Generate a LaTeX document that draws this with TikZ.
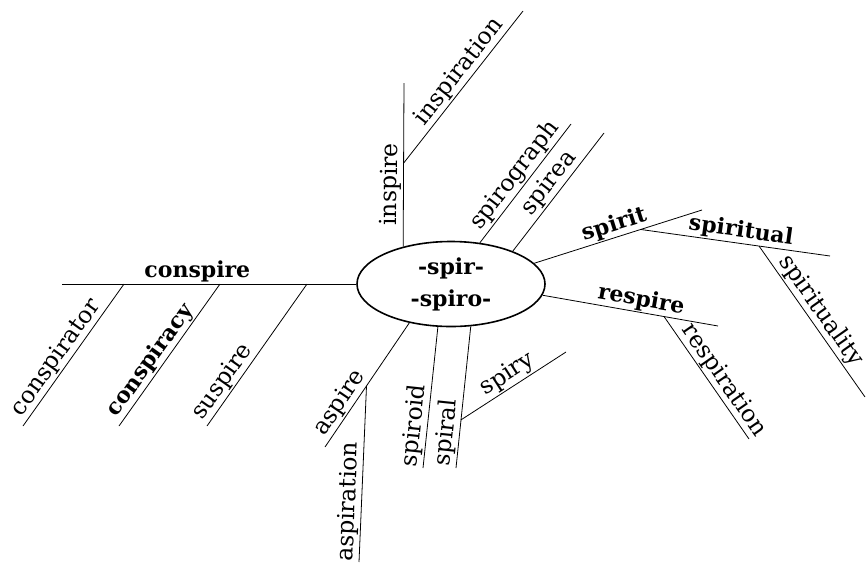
\documentclass[tikz,border=0pt]{standalone}
\usepackage{fontspec}
\setmainfont{DejaVu Serif}
\usetikzlibrary{shapes.geometric}

\tikzset{word/.style={sloped, above, inner sep=1.2pt, font=\fontsize{23.5}{28}\selectfont},
  bword/.style={word, font=\fontsize{22}{26}\selectfont\bfseries},
  stem/.style={draw, ellipse, line width=1.6pt, minimum width=188, minimum height=85, inner sep=0pt, align=center, font=\fontsize{22}{32}\selectfont\bfseries}}

\begin{document}
\begin{tikzpicture}[x=1pt, y=-1pt, line width=.8pt]

\useasboundingbox (0,0) rectangle (867,563);

\node[stem] (root) at (451,284) {-spir-\\-spiro-};

% ends and forks
\coordinate (conL) at (62,284);
\coordinate (c1) at (124,284); \coordinate (c1e) at (23,426);
\coordinate (c2) at (220,284); \coordinate (c2e) at (119,426);
\coordinate (c3) at (307,284); \coordinate (c3e) at (207,426);
\coordinate (inT) at (404,83);
\coordinate (in1) at (403.7,163); \coordinate (in1e) at (523,11);
\coordinate (gphE) at (571,124);
\coordinate (reaE) at (604,133);
\coordinate (sptE) at (702,210);
\coordinate (sp1) at (641,229.5); \coordinate (sp1e) at (830,256);
\coordinate (sp2) at (759,246); \coordinate (sp2e) at (865,397);
\coordinate (resE) at (718,326);
\coordinate (re1) at (664,316.5); \coordinate (re1e) at (749,439);
\coordinate (aspE) at (325,447);
\coordinate (as1) at (366.5,386); \coordinate (as1e) at (359,562);
\coordinate (oidE) at (423,468);
\coordinate (ralE) at (456,468);
\coordinate (ra1) at (460.8,420); \coordinate (ra1e) at (566,352);

% left
\draw (conL) -- (root.180) node[bword, pos=.46] (conspire) {conspire};
\draw (c1e) -- (c1) node[word, pos=.43] (conspirator) {conspirator};
\draw (c2e) -- (c2) node[bword, pos=.41] (conspiracy) {conspiracy};
\draw (c3e) -- (c3) node[word, pos=.26] (suspire) {suspire};

% top
\draw (root.142) -- (inT) node[word, pos=.38] (inspire) {inspire};
\draw (in1) -- (in1e) node[word, pos=.55] (inspiration) {inspiration};
\draw (root.55) -- (gphE) node[word, pos=.5] (spirograph) {spirograph};
\draw (root.28) -- (reaE) node[word, pos=.51] (spirea) {spirea};

% right
\draw (root.14) -- (sptE) node[bword, pos=.5] (spirit) {spirit};
\draw (sp1) -- (sp1e) node[bword, pos=.52] (spiritual) {spiritual};
\draw (sp2) -- (sp2e) node[word, pos=.48] (spirituality) {spirituality};
\draw (root.-7) -- (resE) node[bword, pos=.55] (respire) {respire};
\draw (re1) -- (re1e) node[word, pos=.58] (respiration) {respiration};

% bottom
\draw (aspE) -- (root.-137) node[word, pos=.3] (aspire) {aspire};
\draw (as1e) -- (as1) node[word, pos=.34] (aspiration) {aspiration};
\draw (oidE) -- (root.-107) node[word, pos=.29] (spiroid) {spiroid};
\draw (ralE) -- (root.-65.5) node[word, pos=.24] (spiral) {spiral};
\draw (ra1) -- (ra1e) node[word, pos=.51] (spiry) {spiry};

\end{tikzpicture}
\end{document}
